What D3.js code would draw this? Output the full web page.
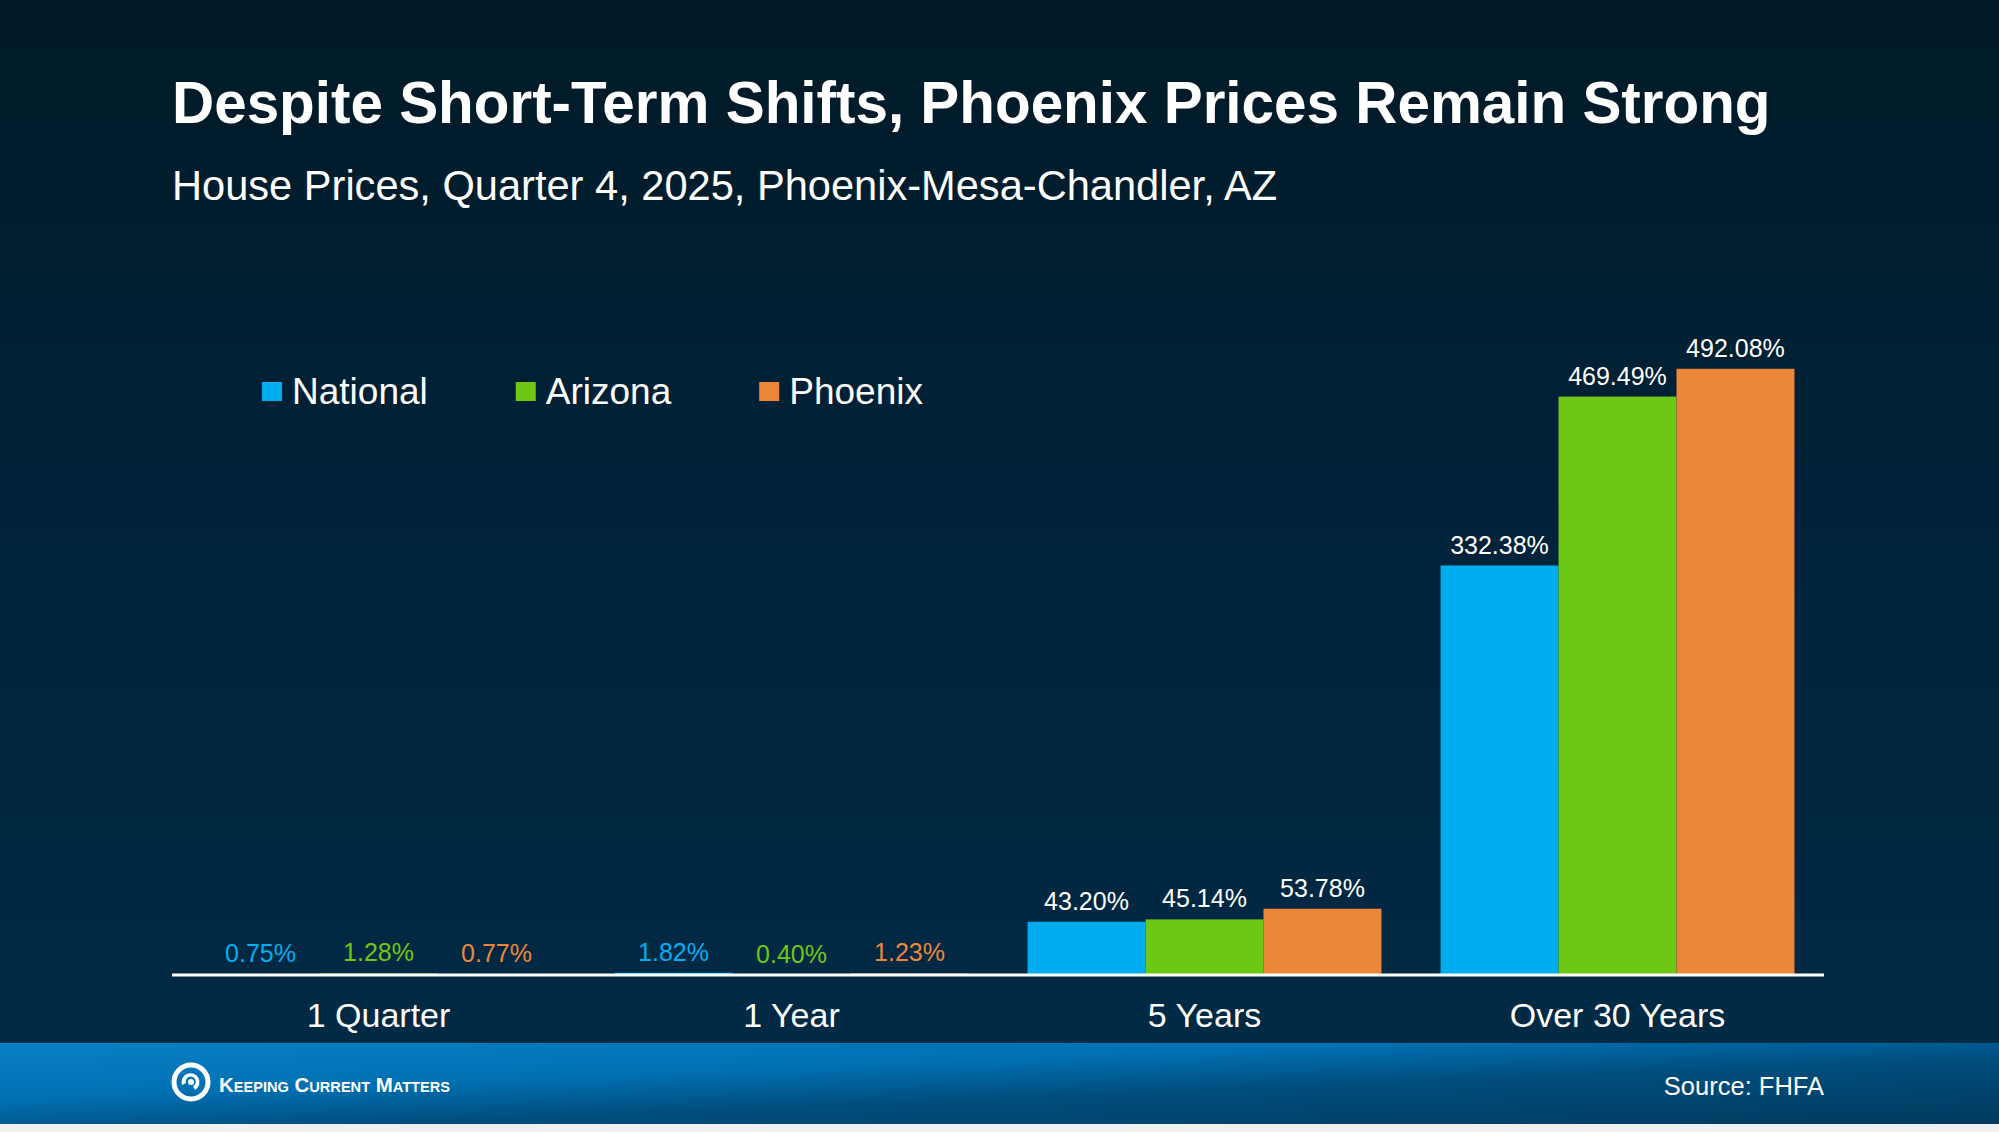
<!DOCTYPE html>
<html>
<head>
<meta charset="utf-8">
<script src="https://cdn.jsdelivr.net/npm/d3@7"></script>
<style>
  html, body { margin: 0; padding: 0; background: #001a27; }
  svg { display: block; }
  text { font-family: "Liberation Sans", Arial, sans-serif; }
</style>
</head>
<body>
<svg id="chart" width="1999" height="1132"></svg>
<script>
// data
const categories = ['1 Quarter', '1 Year', '5 Years', 'Over 30 Years'];
const seriesNames = ['National', 'Arizona', 'Phoenix'];
const national = [0.75, 1.82, 43.20, 332.38];
const arizona = [1.28, 0.40, 45.14, 469.49];
const phoenix = [0.77, 1.23, 53.78, 492.08];
const colors = ['#00aeef', '#6cc814', '#ec873a'];

const width = 1999, height = 1132;
const axisLeft = 172, axisRight = 1824, baseY = 975;

const svg = d3.select('#chart');
const defs = svg.append('defs');

// background gradient
const bg = defs.append('linearGradient').attr('id', 'bg')
  .attr('x1', 0).attr('y1', 0).attr('x2', 0).attr('y2', 1);
bg.append('stop').attr('offset', '0%').attr('stop-color', '#001a27');
bg.append('stop').attr('offset', '50%').attr('stop-color', '#00233a');
bg.append('stop').attr('offset', '100%').attr('stop-color', '#012a45');

// footer gradient
const fg = defs.append('linearGradient').attr('id', 'foot')
  .attr('x1', 0).attr('y1', 0).attr('x2', 1).attr('y2', 1);
fg.append('stop').attr('offset', '0%').attr('stop-color', '#0a80c6');
fg.append('stop').attr('offset', '35%').attr('stop-color', '#0070b2');
fg.append('stop').attr('offset', '60%').attr('stop-color', '#004d7c');
fg.append('stop').attr('offset', '100%').attr('stop-color', '#003a5e');

svg.append('rect').attr('width', width).attr('height', 1043).attr('fill', 'url(#bg)');
svg.append('rect').attr('y', 1043).attr('width', width).attr('height', 81).attr('fill', 'url(#foot)');
svg.append('rect').attr('y', 1124).attr('width', width).attr('height', 8).attr('fill', '#eef0f2');

// titles
svg.append('text')
  .attr('x', 172).attr('y', 123)
  .attr('fill', '#fff').attr('font-size', 58.4).attr('font-weight', 'bold')
  .text('Despite Short-Term Shifts, Phoenix Prices Remain Strong');

svg.append('text')
  .attr('x', 172).attr('y', 200)
  .attr('fill', '#fff').attr('font-size', 41.6)
  .text('House Prices, Quarter 4, 2025, Phoenix-Mesa-Chandler, AZ');

// scales
const x0 = d3.scaleBand()
  .domain(categories)
  .range([axisLeft, axisRight])
  .paddingInner(0.143)
  .paddingOuter(0.0715);

const x1 = d3.scaleBand()
  .domain(seriesNames)
  .range([0, x0.bandwidth()]);

const y = d3.scaleLinear()
  .domain([0, 500])
  .range([baseY, baseY - 616]);

const values = [national, arizona, phoenix];
const rows = categories.map((c, i) => ({
  cat: c,
  items: seriesNames.map((s, j) => ({ name: s, value: values[j][i], color: colors[j] }))
}));

const groups = svg.append('g').selectAll('g')
  .data(rows)
  .join('g')
  .attr('transform', d => `translate(${x0(d.cat)},0)`);

groups.selectAll('rect')
  .data(d => d.items)
  .join('rect')
  .attr('x', d => x1(d.name))
  .attr('y', d => y(d.value))
  .attr('width', x1.bandwidth())
  .attr('height', d => y(0) - y(d.value))
  .attr('fill', d => d.color);

groups.selectAll('text.val')
  .data(d => d.items)
  .join('text')
  .attr('class', 'val')
  .attr('x', d => x1(d.name) + x1.bandwidth() / 2)
  .attr('y', d => y(d.value) - 12)
  .attr('text-anchor', 'middle')
  .attr('font-size', 25)
  .attr('fill', d => d.value < 10 ? d.color : '#fff')
  .text(d => d.value.toFixed(2) + '%');

// x axis
const xAxis = svg.append('g')
  .attr('transform', `translate(0,${baseY})`)
  .call(d3.axisBottom(x0).tickSize(0).tickPadding(28));
xAxis.select('.domain').attr('stroke', '#fff').attr('stroke-width', 3)
  .attr('d', `M${axisLeft},0H${axisRight}`);
xAxis.selectAll('.tick text')
  .attr('fill', '#fff')
  .attr('font-size', 34)
  .attr('font-family', '"Liberation Sans", Arial, sans-serif');

// legend
const legend = svg.append('g');
let lx = 262;
seriesNames.forEach((s, i) => {
  legend.append('rect')
    .attr('x', lx).attr('y', 382).attr('width', 20).attr('height', 19)
    .attr('fill', colors[i]);
  const t = legend.append('text')
    .attr('x', lx + 30).attr('y', 404)
    .attr('fill', '#fff').attr('font-size', 37)
    .text(s);
  lx = lx + 30 + t.node().getComputedTextLength() + 88;
});

// footer
svg.append('text')
  .attr('x', axisRight).attr('y', 1095)
  .attr('text-anchor', 'end')
  .attr('fill', '#fff').attr('font-size', 25.5)
  .text('Source: FHFA');

const logo = svg.append('g').attr('transform', 'translate(191,1082)');
logo.append('circle').attr('r', 17).attr('fill', 'none')
  .attr('stroke', '#fff').attr('stroke-width', 5);
logo.append('path')
  .attr('d', 'M-9,3 A9,9 0 1,1 4,8 L2,4 A5,5 0 1,0 -5,1 Z')
  .attr('fill', '#fff');
logo.append('circle').attr('r', 3).attr('cx', 0).attr('cy', 0).attr('fill', '#fff');

svg.append('text')
  .attr('x', 219).attr('y', 1092)
  .attr('fill', '#fff')
  .attr('font-family', '"Open Sans", sans-serif')
  .attr('font-weight', 600)
  .attr('font-size', 21)
  .style('font-variant', 'small-caps')
  .attr('textLength', 231)
  .attr('lengthAdjust', 'spacingAndGlyphs')
  .text('Keeping Current Matters');
</script>
</body>
</html>
